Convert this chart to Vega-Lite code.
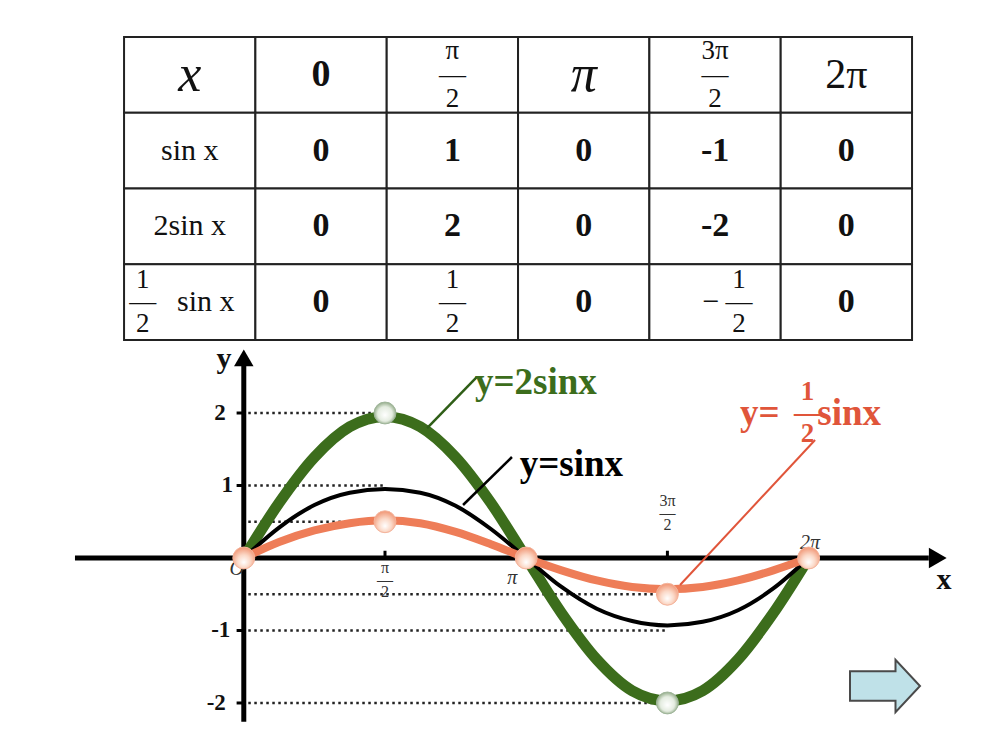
{
  "$schema": "https://vega.github.io/schema/vega-lite/v6.json",
  "width": 1006,
  "height": 743,
  "padding": 0,
  "autosize": {"type": "none"},
  "background": "#ffffff",
  "config": {"view": {"stroke": null}, "font": "Liberation Serif"},
  "datasets": {
    "table": [
      {"row": "r0", "col": "c0", "text": "x", "kind": "var"},
      {"row": "r0", "col": "c1", "text": "0", "kind": "hnum"},
      {"row": "r0", "col": "c2", "text": "π\n—\n2", "kind": "hfrac"},
      {"row": "r0", "col": "c3", "text": "π", "kind": "var"},
      {"row": "r0", "col": "c4", "text": "3π\n—\n2", "kind": "hfrac"},
      {"row": "r0", "col": "c5", "text": "2π", "kind": "hplain"},
      {"row": "r1", "col": "c0", "text": "sin x", "kind": "label"},
      {"row": "r1", "col": "c1", "text": "0", "kind": "num"},
      {"row": "r1", "col": "c2", "text": "1", "kind": "num"},
      {"row": "r1", "col": "c3", "text": "0", "kind": "num"},
      {"row": "r1", "col": "c4", "text": "-1", "kind": "num"},
      {"row": "r1", "col": "c5", "text": "0", "kind": "num"},
      {"row": "r2", "col": "c0", "text": "2sin x", "kind": "label"},
      {"row": "r2", "col": "c1", "text": "0", "kind": "num"},
      {"row": "r2", "col": "c2", "text": "2", "kind": "num"},
      {"row": "r2", "col": "c3", "text": "0", "kind": "num"},
      {"row": "r2", "col": "c4", "text": "-2", "kind": "num"},
      {"row": "r2", "col": "c5", "text": "0", "kind": "num"},
      {"row": "r3", "col": "c0", "text": "sin x", "kind": "label", "prefix": "1\n—\n2"},
      {"row": "r3", "col": "c1", "text": "0", "kind": "num"},
      {"row": "r3", "col": "c2", "text": "1\n—\n2", "kind": "frac"},
      {"row": "r3", "col": "c3", "text": "0", "kind": "num"},
      {"row": "r3", "col": "c4", "text": "1\n—\n2", "kind": "frac", "sign": "−"},
      {"row": "r3", "col": "c5", "text": "0", "kind": "num"}
    ],
    "curves": [
      {"series": "2sinx", "x": 0, "y": 0},
      {"series": "2sinx", "x": 0.3927, "y": 0.76},
      {"series": "2sinx", "x": 0.7854, "y": 1.39},
      {"series": "2sinx", "x": 1.1781, "y": 1.81},
      {"series": "2sinx", "x": 1.5708, "y": 1.95},
      {"series": "2sinx", "x": 1.9635, "y": 1.81},
      {"series": "2sinx", "x": 2.3562, "y": 1.39},
      {"series": "2sinx", "x": 2.7489, "y": 0.76},
      {"series": "2sinx", "x": 3.1416, "y": 0},
      {"series": "2sinx", "x": 3.5343, "y": -0.76},
      {"series": "2sinx", "x": 3.927, "y": -1.4},
      {"series": "2sinx", "x": 4.3197, "y": -1.83},
      {"series": "2sinx", "x": 4.7124, "y": -1.97},
      {"series": "2sinx", "x": 5.1051, "y": -1.83},
      {"series": "2sinx", "x": 5.4978, "y": -1.4},
      {"series": "2sinx", "x": 5.8905, "y": -0.76},
      {"series": "2sinx", "x": 6.2832, "y": 0},
      {"series": "sinx", "x": 0, "y": 0},
      {"series": "sinx", "x": 0.3927, "y": 0.42},
      {"series": "sinx", "x": 0.7854, "y": 0.73},
      {"series": "sinx", "x": 1.1781, "y": 0.9},
      {"series": "sinx", "x": 1.5708, "y": 0.95},
      {"series": "sinx", "x": 1.9635, "y": 0.9},
      {"series": "sinx", "x": 2.3562, "y": 0.72},
      {"series": "sinx", "x": 2.7489, "y": 0.4},
      {"series": "sinx", "x": 3.1416, "y": 0},
      {"series": "sinx", "x": 3.5343, "y": -0.4},
      {"series": "sinx", "x": 3.927, "y": -0.7},
      {"series": "sinx", "x": 4.3197, "y": -0.87},
      {"series": "sinx", "x": 4.7124, "y": -0.93},
      {"series": "sinx", "x": 5.1051, "y": -0.88},
      {"series": "sinx", "x": 5.4978, "y": -0.72},
      {"series": "sinx", "x": 5.8905, "y": -0.42},
      {"series": "sinx", "x": 6.2832, "y": 0},
      {"series": "halfsinx", "x": 0, "y": 0},
      {"series": "halfsinx", "x": 0.3927, "y": 0.22},
      {"series": "halfsinx", "x": 0.7854, "y": 0.38},
      {"series": "halfsinx", "x": 1.1781, "y": 0.48},
      {"series": "halfsinx", "x": 1.5708, "y": 0.52},
      {"series": "halfsinx", "x": 1.9635, "y": 0.48},
      {"series": "halfsinx", "x": 2.3562, "y": 0.36},
      {"series": "halfsinx", "x": 2.7489, "y": 0.19},
      {"series": "halfsinx", "x": 3.1416, "y": 0},
      {"series": "halfsinx", "x": 3.5343, "y": -0.17},
      {"series": "halfsinx", "x": 3.927, "y": -0.31},
      {"series": "halfsinx", "x": 4.3197, "y": -0.4},
      {"series": "halfsinx", "x": 4.7124, "y": -0.43},
      {"series": "halfsinx", "x": 5.1051, "y": -0.4},
      {"series": "halfsinx", "x": 5.4978, "y": -0.31},
      {"series": "halfsinx", "x": 5.8905, "y": -0.17},
      {"series": "halfsinx", "x": 6.2832, "y": 0}
    ],
    "guides": [
      {"y": 2, "x": 0.05, "x2": 1.5708},
      {"y": 1, "x": 0.05, "x2": 1.5708},
      {"y": 0.5, "x": 0.05, "x2": 1.5708},
      {"y": -0.5, "x": 0.05, "x2": 4.7124},
      {"y": -1, "x": 0.05, "x2": 4.7124},
      {"y": -2, "x": 0.05, "x2": 4.7124}
    ],
    "segments": [
      {"kind": "axis", "x": -1.878, "y": 0, "x2": 7.62, "y2": 0},
      {"kind": "axis", "x": 0, "y": -2.26, "x2": 0, "y2": 2.66},
      {"kind": "tick", "x": 1.5708, "y": 0, "x2": 1.5708, "y2": 0.1},
      {"kind": "tick", "x": 4.7124, "y": 0, "x2": 4.7124, "y2": 0.1},
      {"kind": "tick", "x": -0.08, "y": 2, "x2": 0, "y2": 2},
      {"kind": "tick", "x": -0.08, "y": 1, "x2": 0, "y2": 1},
      {"kind": "tick", "x": -0.08, "y": -1, "x2": 0, "y2": -1},
      {"kind": "tick", "x": -0.08, "y": -2, "x2": 0, "y2": -2},
      {"kind": "2sinx", "x": 2.594, "y": 2.497, "x2": 2.039, "y2": 1.793},
      {"kind": "sinx", "x": 2.983, "y": 1.393, "x2": 2.439, "y2": 0.731},
      {"kind": "halfsinx", "x": 6.355, "y": 1.628, "x2": 4.853, "y2": -0.372}
    ],
    "arrows": [
      {"dir": "right", "x": 7.72, "y": 0},
      {"dir": "up", "x": 0, "y": 2.76}
    ],
    "keypoints": [
      {"curve": "2sinx", "x": 1.5708, "y": 2},
      {"curve": "2sinx", "x": 4.7124, "y": -2},
      {"curve": "halfsinx", "x": 1.5708, "y": 0.5},
      {"curve": "halfsinx", "x": 4.7124, "y": -0.5},
      {"curve": "halfsinx", "x": 0, "y": 0},
      {"curve": "halfsinx", "x": 3.1416, "y": 0},
      {"curve": "halfsinx", "x": 6.2832, "y": 0}
    ],
    "ylabels": [
      {"text": "2", "x": -0.2, "y": 2},
      {"text": "1", "x": -0.12, "y": 1},
      {"text": "-1", "x": -0.15, "y": -1},
      {"text": "-2", "x": -0.2, "y": -2}
    ],
    "smalllabels": [
      {"text": "O", "x": -0.08, "y": -0.15, "kind": "plain"},
      {"text": "π", "x": 2.986, "y": -0.27, "kind": "plain"},
      {"text": "2π", "x": 6.3, "y": 0.2, "kind": "plain"},
      {"text": "π\n—\n2", "x": 1.5708, "y": -0.3, "kind": "frac"},
      {"text": "3π\n—\n2", "x": 4.7124, "y": 0.62, "kind": "frac"}
    ],
    "names": [
      {"text": "y", "x": -0.22, "y": 2.75},
      {"text": "x", "x": 7.79, "y": -0.3}
    ],
    "curvelabels": [
      {"series": "2sinx", "text": "y=2sinx", "x": 2.572, "y": 2.414},
      {"series": "sinx", "text": "y=sinx", "x": 3.07, "y": 1.283},
      {"series": "halfsinx", "text": "y=", "x": 5.52, "y": 1.99},
      {"series": "halfsinx", "text": "sinx", "x": 6.38, "y": 1.99}
    ],
    "fraclabels": [
      {"series": "halfsinx", "text": "1\n—\n2", "x": 6.27, "y": 2.0}
    ],
    "button": [
      {"x": 7.133, "y": -1.766}
    ]
  },
  "layer": [
    {
      "data": {"name": "table"},
      "encoding": {
        "x": {"field": "col", "type": "nominal", "axis": null,
          "scale": {"domain": ["c0", "c1", "c2", "c3", "c4", "c5"], "paddingInner": 0, "paddingOuter": 0.83, "align": 0.569}},
        "y": {"field": "row", "type": "nominal", "axis": null,
          "scale": {"domain": ["r0", "r1", "r2", "r3", "_a", "_b", "_c", "_d", "_e"], "paddingInner": 0, "paddingOuter": 0.405, "align": 0.604}}
      },
      "layer": [
        {"mark": {"type": "rect", "fill": "#ffffff", "stroke": "#222222", "strokeWidth": 2}},
        {"transform": [{"filter": "datum.kind == 'var'"}],
          "mark": {"type": "text", "font": "Liberation Serif", "fontSize": 52, "fontStyle": "italic", "color": "#111111", "baseline": "middle"},
          "encoding": {"text": {"field": "text"}}},
        {"transform": [{"filter": "datum.kind == 'hnum'"}],
          "mark": {"type": "text", "font": "Liberation Serif", "fontSize": 38, "fontWeight": "bold", "color": "#111111", "baseline": "middle"},
          "encoding": {"text": {"field": "text"}}},
        {"transform": [{"filter": "datum.kind == 'hplain'"}],
          "mark": {"type": "text", "font": "Liberation Serif", "fontSize": 42, "color": "#111111", "baseline": "middle"},
          "encoding": {"text": {"field": "text"}}},
        {"transform": [{"filter": "datum.kind == 'num'"}],
          "mark": {"type": "text", "font": "Liberation Serif", "fontSize": 34, "fontWeight": "bold", "color": "#111111", "baseline": "middle"},
          "encoding": {"text": {"field": "text"}}},
        {"transform": [{"filter": "datum.kind == 'hfrac'"}],
          "mark": {"type": "text", "font": "Liberation Serif", "fontSize": 27, "lineHeight": 24, "lineBreak": "\n", "color": "#111111", "baseline": "middle", "dy": -24},
          "encoding": {"text": {"field": "text"}}},
        {"transform": [{"filter": "datum.kind == 'frac' && !datum.sign"}],
          "mark": {"type": "text", "font": "Liberation Serif", "fontSize": 27, "lineHeight": 22, "lineBreak": "\n", "color": "#111111", "baseline": "middle", "dy": -22},
          "encoding": {"text": {"field": "text"}}},
        {"transform": [{"filter": "datum.kind == 'frac' && datum.sign"}],
          "mark": {"type": "text", "font": "Liberation Serif", "fontSize": 27, "lineHeight": 22, "lineBreak": "\n", "color": "#111111", "baseline": "middle", "dx": 24, "dy": -22},
          "encoding": {"text": {"field": "text"}}},
        {"transform": [{"filter": "datum.sign"}],
          "mark": {"type": "text", "font": "Liberation Serif", "fontSize": 30, "color": "#111111", "baseline": "middle", "dx": -4},
          "encoding": {"text": {"field": "sign"}}},
        {"transform": [{"filter": "datum.kind == 'label' && !datum.prefix"}],
          "mark": {"type": "text", "font": "Liberation Serif", "fontSize": 30, "color": "#111111", "baseline": "middle"},
          "encoding": {"text": {"field": "text"}}},
        {"transform": [{"filter": "datum.prefix"}],
          "mark": {"type": "text", "font": "Liberation Serif", "fontSize": 30, "color": "#111111", "baseline": "middle", "dx": 16},
          "encoding": {"text": {"field": "text"}}},
        {"transform": [{"filter": "datum.prefix"}],
          "mark": {"type": "text", "font": "Liberation Serif", "fontSize": 27, "lineHeight": 22, "lineBreak": "\n", "color": "#111111", "baseline": "middle", "dx": -47, "dy": -22},
          "encoding": {"text": {"field": "prefix"}}}
      ]
    },
    {
      "encoding": {
        "x": {"field": "x", "type": "quantitative", "axis": null, "scale": {"domain": [-2.712, 8.479], "nice": false, "zero": false}},
        "y": {"field": "y", "type": "quantitative", "axis": null, "scale": {"domain": [-2.552, 7.697], "nice": false, "zero": false}}
      },
      "layer": [
        {"data": {"name": "guides"},
          "mark": {"type": "rule", "color": "#222222", "strokeWidth": 2.5, "strokeDash": [2.5, 3.5]},
          "encoding": {"x2": {"field": "x2"}}},
        {"data": {"name": "segments"}, "transform": [{"filter": "datum.kind == 'axis'"}],
          "mark": {"type": "rule", "color": "#000000", "strokeWidth": 5},
          "encoding": {"x2": {"field": "x2"}, "y2": {"field": "y2"}}},
        {"data": {"name": "segments"}, "transform": [{"filter": "datum.kind == 'tick'"}],
          "mark": {"type": "rule", "color": "#000000", "strokeWidth": 3},
          "encoding": {"x2": {"field": "x2"}, "y2": {"field": "y2"}}},
        {"data": {"name": "arrows"}, "transform": [{"filter": "datum.dir == 'right'"}],
          "mark": {"type": "point", "shape": "triangle-right", "filled": true, "color": "#000000", "size": 420, "opacity": 1}},
        {"data": {"name": "arrows"}, "transform": [{"filter": "datum.dir == 'up'"}],
          "mark": {"type": "point", "shape": "triangle-up", "filled": true, "color": "#000000", "size": 380, "opacity": 1}},
        {"data": {"name": "ylabels"},
          "mark": {"type": "text", "font": "Liberation Serif", "fontSize": 23, "fontWeight": "bold", "align": "right", "baseline": "middle", "color": "#111111"},
          "encoding": {"text": {"field": "text"}}},
        {"data": {"name": "names"},
          "mark": {"type": "text", "font": "Liberation Serif", "fontSize": 30, "fontWeight": "bold", "align": "center", "baseline": "middle", "color": "#111111"},
          "encoding": {"text": {"field": "text"}}},
        {"data": {"name": "smalllabels"}, "transform": [{"filter": "datum.kind == 'plain'"}],
          "mark": {"type": "text", "font": "Liberation Serif", "fontSize": 20, "fontStyle": "italic", "align": "center", "baseline": "middle", "color": "#333333"},
          "encoding": {"text": {"field": "text"}}},
        {"data": {"name": "smalllabels"}, "transform": [{"filter": "datum.kind == 'frac'"}],
          "mark": {"type": "text", "font": "Liberation Serif", "fontSize": 16, "lineHeight": 12, "lineBreak": "\n", "align": "center", "baseline": "middle", "color": "#333333", "dy": -12},
          "encoding": {"text": {"field": "text"}}},
        {"data": {"name": "curves"}, "transform": [{"filter": "datum.series == '2sinx'"}],
          "mark": {"type": "line", "color": "#3c6d1c", "strokeWidth": 11, "interpolate": "monotone", "strokeCap": "round"}},
        {"data": {"name": "curves"}, "transform": [{"filter": "datum.series == 'sinx'"}],
          "mark": {"type": "line", "color": "#000000", "strokeWidth": 4, "interpolate": "monotone"}},
        {"data": {"name": "curves"}, "transform": [{"filter": "datum.series == 'halfsinx'"}],
          "mark": {"type": "line", "color": "#ee7d58", "strokeWidth": 8, "interpolate": "monotone", "strokeCap": "round"}},
        {"data": {"name": "segments"}, "transform": [{"filter": "datum.kind == '2sinx'"}],
          "mark": {"type": "rule", "color": "#2f5e17", "strokeWidth": 2.5},
          "encoding": {"x2": {"field": "x2"}, "y2": {"field": "y2"}}},
        {"data": {"name": "segments"}, "transform": [{"filter": "datum.kind == 'sinx'"}],
          "mark": {"type": "rule", "color": "#000000", "strokeWidth": 2.5},
          "encoding": {"x2": {"field": "x2"}, "y2": {"field": "y2"}}},
        {"data": {"name": "segments"}, "transform": [{"filter": "datum.kind == 'halfsinx'"}],
          "mark": {"type": "rule", "color": "#e0553a", "strokeWidth": 2},
          "encoding": {"x2": {"field": "x2"}, "y2": {"field": "y2"}}},
        {"data": {"name": "keypoints"}, "transform": [{"filter": "datum.curve == '2sinx'"}],
          "mark": {"type": "point", "shape": "circle", "filled": true, "size": 480, "opacity": 1, "strokeWidth": 1, "stroke": "#9fb59a",
            "fill": {"gradient": "radial", "x1": 0.5, "y1": 0.6, "x2": 0.5, "y2": 0.5, "r1": 0, "r2": 0.6,
              "stops": [{"offset": 0, "color": "#ffffff"}, {"offset": 0.55, "color": "#e4ece0"}, {"offset": 1, "color": "#6f8f62"}]}}},
        {"data": {"name": "keypoints"}, "transform": [{"filter": "datum.curve == 'halfsinx'"}],
          "mark": {"type": "point", "shape": "circle", "filled": true, "size": 480, "opacity": 1, "strokeWidth": 1, "stroke": "#f4b49c",
            "fill": {"gradient": "radial", "x1": 0.5, "y1": 0.7, "x2": 0.5, "y2": 0.6, "r1": 0, "r2": 0.65,
              "stops": [{"offset": 0, "color": "#ffffff"}, {"offset": 0.45, "color": "#fbd9c8"}, {"offset": 1, "color": "#ef8a66"}]}}},
        {"data": {"name": "curvelabels"}, "transform": [{"filter": "datum.series == '2sinx'"}],
          "mark": {"type": "text", "font": "Liberation Serif", "fontSize": 37, "fontWeight": "bold", "align": "left", "baseline": "middle", "color": "#3c6d1c"},
          "encoding": {"text": {"field": "text"}}},
        {"data": {"name": "curvelabels"}, "transform": [{"filter": "datum.series == 'sinx'"}],
          "mark": {"type": "text", "font": "Liberation Serif", "fontSize": 37, "fontWeight": "bold", "align": "left", "baseline": "middle", "color": "#000000"},
          "encoding": {"text": {"field": "text"}}},
        {"data": {"name": "curvelabels"}, "transform": [{"filter": "datum.series == 'halfsinx'"}],
          "mark": {"type": "text", "font": "Liberation Serif", "fontSize": 37, "fontWeight": "bold", "align": "left", "baseline": "middle", "color": "#e0553a"},
          "encoding": {"text": {"field": "text"}}},
        {"data": {"name": "fraclabels"},
          "mark": {"type": "text", "font": "Liberation Serif", "fontSize": 27, "fontWeight": "bold", "lineHeight": 21, "lineBreak": "\n", "align": "center", "baseline": "middle", "color": "#e0553a", "dy": -21},
          "encoding": {"text": {"field": "text"}}},
        {"data": {"name": "button"},
          "mark": {"type": "point", "filled": true, "size": 4900, "opacity": 1, "fill": "#bfe1e8", "stroke": "#4a4a4a", "strokeWidth": 2,
            "shape": "M-1,-0.42 L0.3,-0.42 L0.3,-0.75 L1,0 L0.3,0.75 L0.3,0.42 L-1,0.42 Z"}}
      ]
    }
  ],
  "resolve": {"scale": {"x": "independent", "y": "independent"}}
}
